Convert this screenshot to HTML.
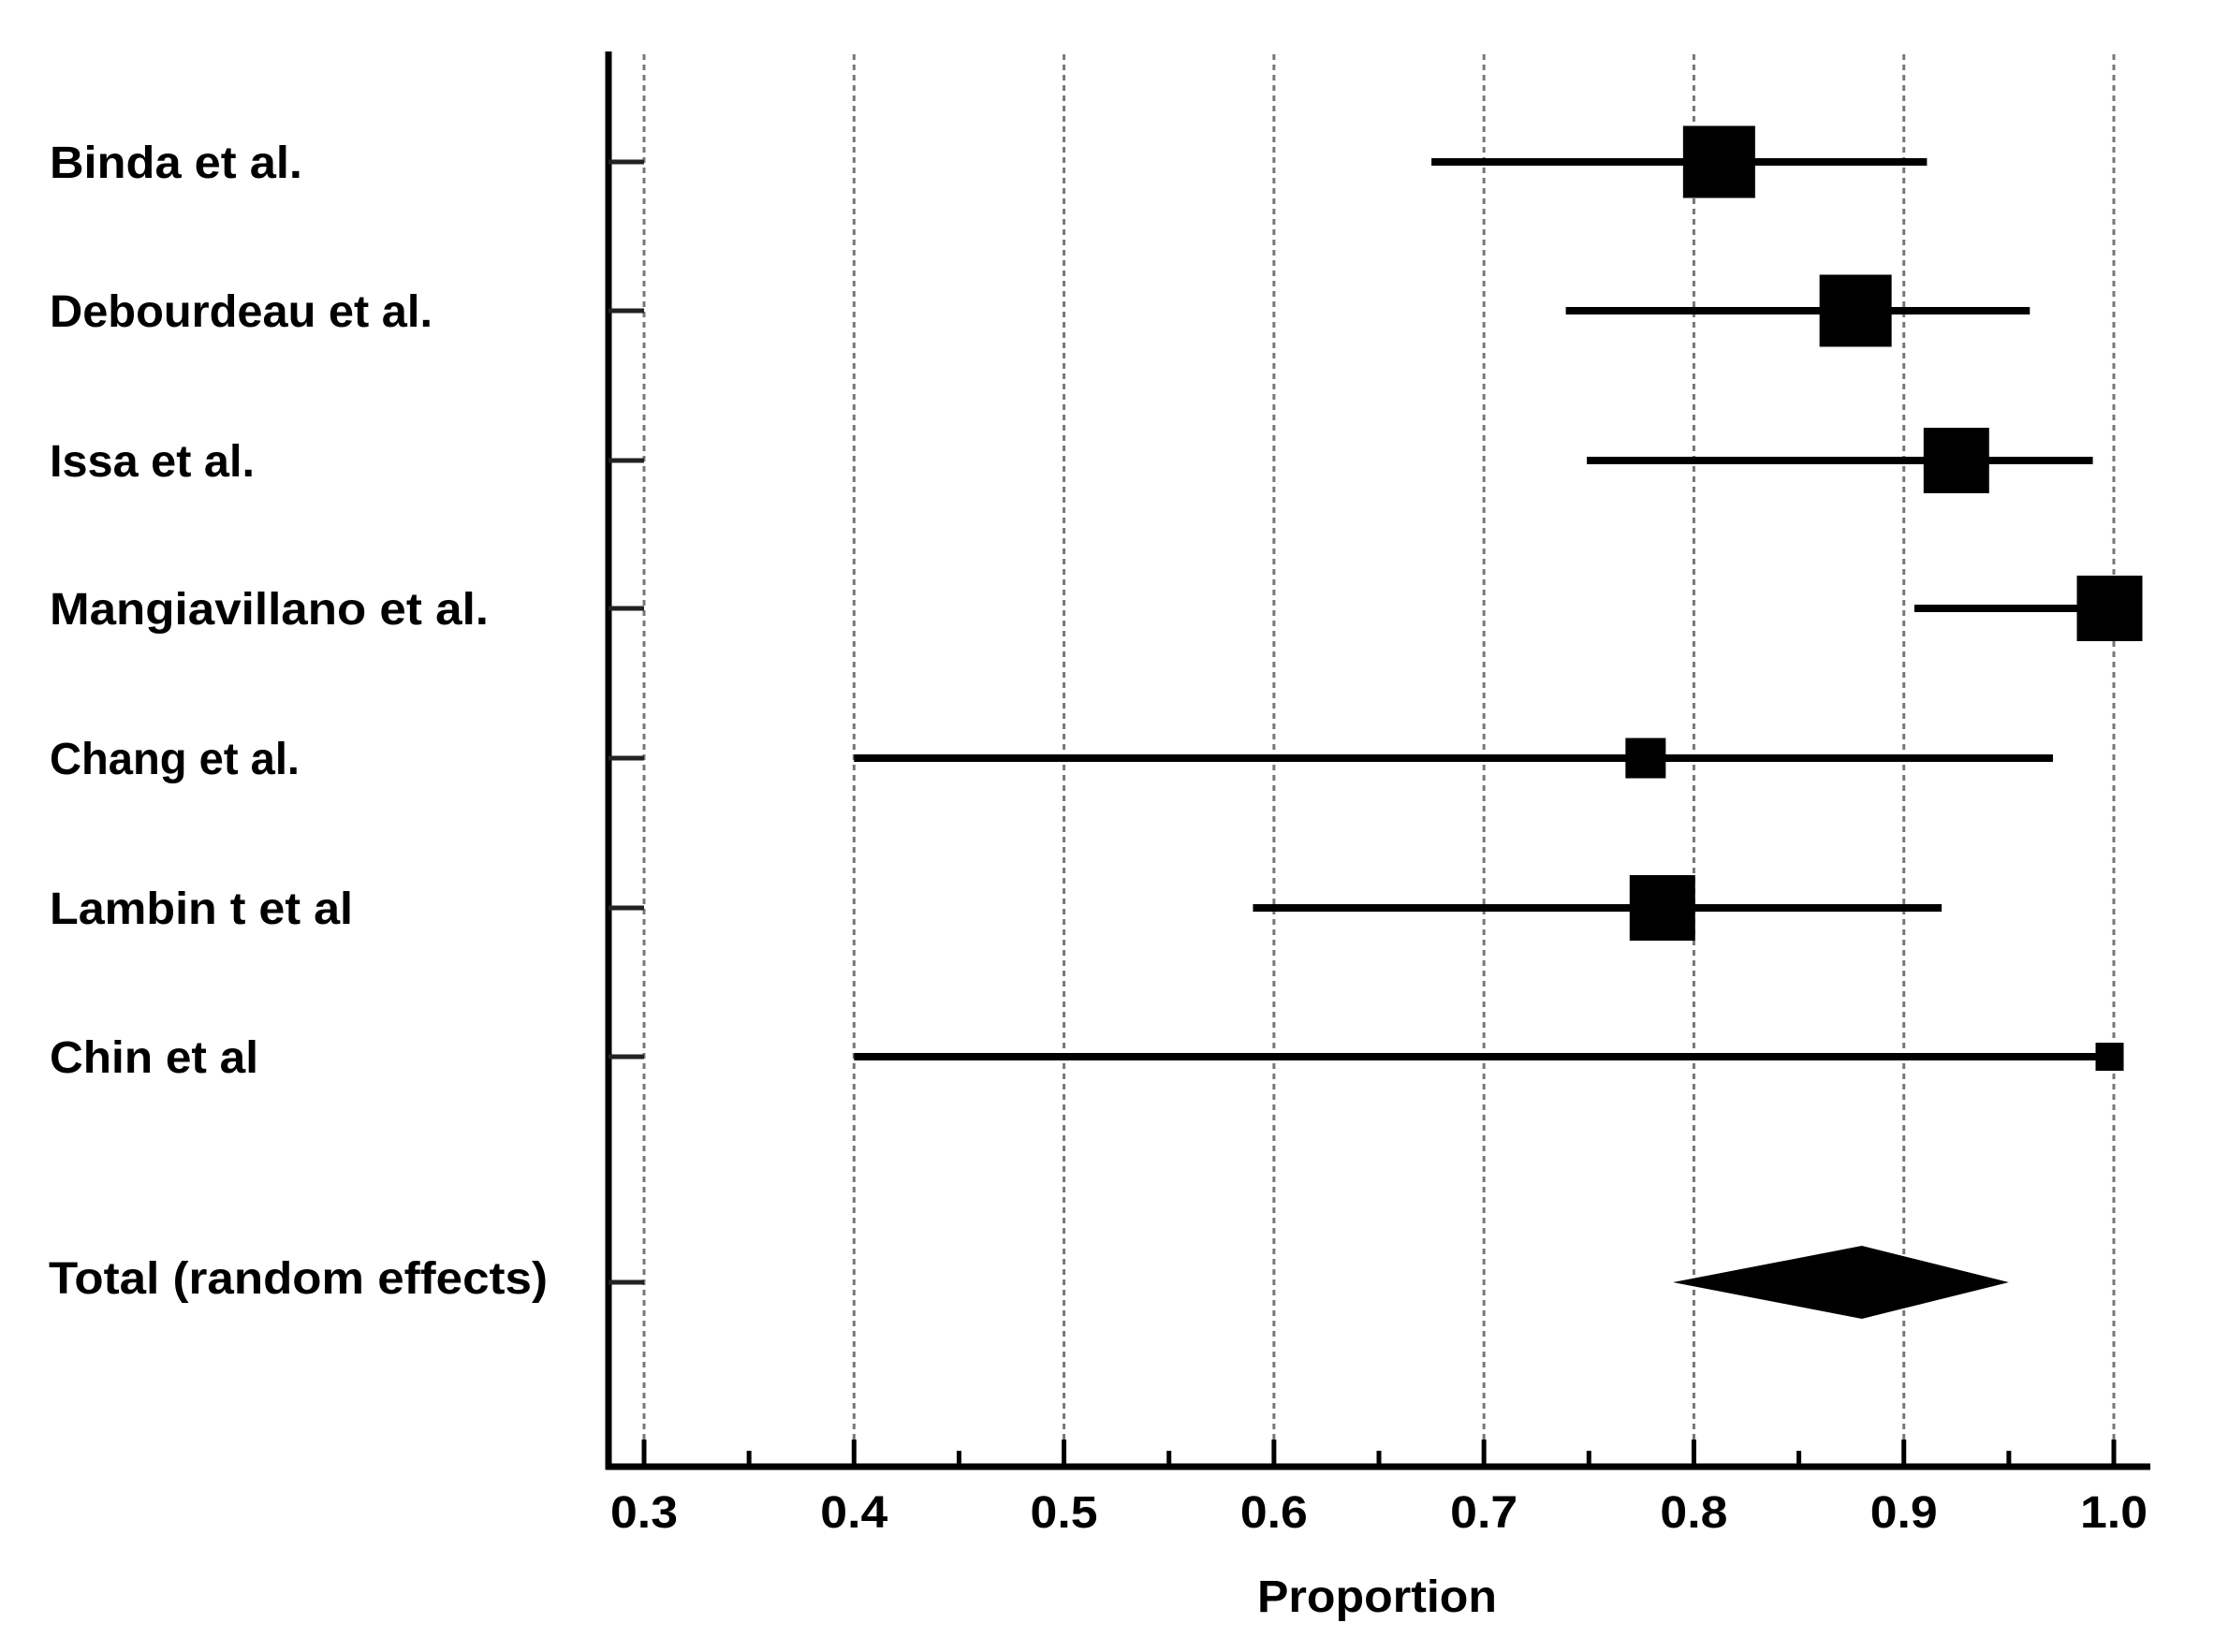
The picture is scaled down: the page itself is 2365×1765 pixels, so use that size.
<!DOCTYPE html>
<html><head><meta charset="utf-8"><style>html,body{margin:0;padding:0;background:#fff}svg{display:block}text{font-family:"Liberation Sans",sans-serif;font-weight:bold;fill:#000}</style></head>
<body>
<svg id="chart" width="2365" height="1765" viewBox="0 0 2365 1765" xmlns="http://www.w3.org/2000/svg">
<g id="grid"></g>
<g id="marks"></g>
<g id="axes"></g>
<g id="labels"></g>
<text x="1471" y="1722" font-size="48" text-anchor="middle" textLength="256" lengthAdjust="spacingAndGlyphs">Proportion</text>
</svg>
<script>
const studies = ["Binda et al.","Debourdeau et al.","Issa et al.","Mangiavillano et al.","Chang et al.","Lambin t et al","Chin et al"];
const estimates = [0.812,0.877,0.925,0.998,0.777,0.785,0.998];
const lower = [0.675,0.739,0.749,0.905,0.40,0.59,0.40];
const upper = [0.911,0.96,0.99,0.998,0.971,0.918,1.0];
const weights = [77,77,70,70,43,70,30];
const totalLabel = "Total (random effects)";
const totalEst = 0.88, totalLow = 0.79, totalHigh = 0.95;
const xTicks = ["0.3","0.4","0.5","0.6","0.7","0.8","0.9","1.0"];

const NS = "http://www.w3.org/2000/svg";
const rowY = [173,332,492,650,810,970,1129];
const totalY = 1370;
const labelW = [270,409,219,469,267,324,223];
const x = v => 688 + (v - 0.3) / 0.7 * (2258 - 688);
function mk(tag, attrs, parent){const e=document.createElementNS(NS,tag);for(const k in attrs)e.setAttribute(k,attrs[k]);parent.appendChild(e);return e;}
const grid=document.getElementById('grid'),marks=document.getElementById('marks'),axes=document.getElementById('axes'),labels=document.getElementById('labels');

xTicks.forEach((t)=>{
  const v=parseFloat(t), X=x(v);
  const g=mk('line',{x1:X,x2:X,y1:58,y2:1566,stroke:'#777','stroke-width':3,'stroke-dasharray':'6,5'},grid);
  
  
  const tk=mk('line',{x1:X,x2:X,y1:1538,y2:1566,stroke:'#000','stroke-width':5},axes);
  
  
  const tl=mk('text',{x:X,y:1632,'font-size':48,'text-anchor':'middle',textLength:72,lengthAdjust:'spacingAndGlyphs'},axes);
  tl.textContent=t;
  
  
  if(v<1.0){
    const mx=x(v+0.05);
    const m=mk('line',{x1:mx,x2:mx,y1:1550,y2:1566,stroke:'#000','stroke-width':5},axes);
    
    
  }
});
const ya=mk('line',{x1:650,x2:650,y1:55,y2:1570,stroke:'#000','stroke-width':7},axes);


const xa=mk('line',{x1:647,x2:2297,y1:1567,y2:1567,stroke:'#000','stroke-width':7},axes);



studies.forEach((s,i)=>{
  const y=rowY[i];
  const tk=mk('line',{x1:650,x2:688,y1:y,y2:y,stroke:'#222','stroke-width':5},axes);
  
  
  const ci=mk('line',{x1:x(lower[i]),x2:x(upper[i]),y1:y,y2:y,stroke:'#000','stroke-width':8},marks);
  
  
  const w=weights[i];
  const sq=mk('rect',{x:x(estimates[i])-w/2,y:y-w/2,width:w,height:w,fill:'#000'},marks);
  
  
  const lb=mk('text',{x:53,y:y+17,'font-size':48,textLength:labelW[i],lengthAdjust:'spacingAndGlyphs'},labels);
  lb.textContent=s;
  
  
});
const tt=mk('line',{x1:650,x2:688,y1:totalY,y2:totalY,stroke:'#222','stroke-width':5},axes);


const d=mk('polygon',{points:`${x(totalLow)},${totalY} ${x(totalEst)},${totalY-39} ${x(totalHigh)},${totalY} ${x(totalEst)},${totalY+39}`,fill:'#000'},marks);


const tl=mk('text',{x:52,y:totalY+12,'font-size':48,textLength:533,lengthAdjust:'spacingAndGlyphs'},labels);
tl.textContent=totalLabel;


</script>
</body></html>
